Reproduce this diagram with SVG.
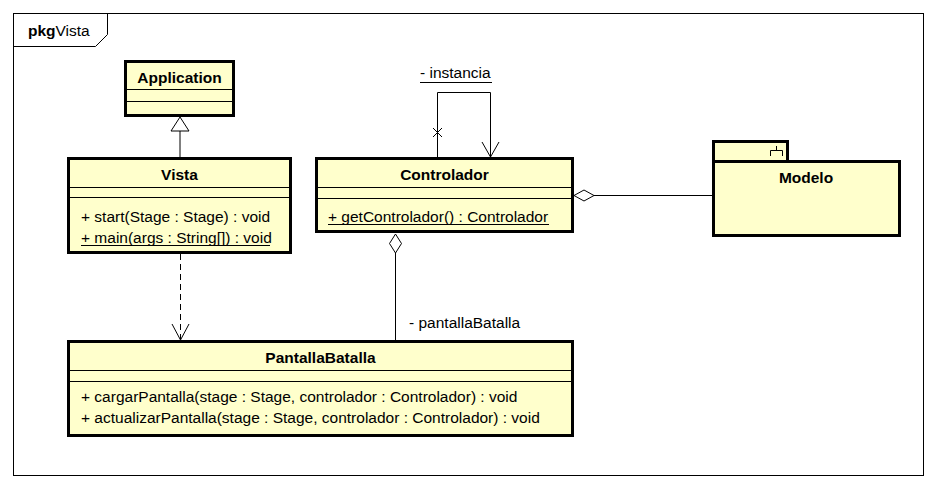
<svg xmlns="http://www.w3.org/2000/svg" width="937" height="489" viewBox="0 0 937 489">
<defs>
<style>
.frame{fill:#fff;stroke:#000;stroke-width:1}
.box{fill:#FFFFCC;stroke:#000;stroke-width:3}
.sep{stroke:#000;stroke-width:1}
.ln{fill:none;stroke:#000;stroke-width:1}
.dash{fill:none;stroke:#000;stroke-width:1;stroke-dasharray:6,4}
.hole{fill:#fff;stroke:#000;stroke-width:1}
.nm{font-family:"Liberation Sans",Arial,sans-serif;font-size:15.5px;font-weight:bold;fill:#000}
.tx{font-family:"Liberation Sans",Arial,sans-serif;font-size:15.5px;fill:#000}
</style>
</defs>
<rect width="937" height="489" fill="#fff"/>
<g id="frame">
<rect class="frame" x="13.5" y="13.5" width="910" height="462"/>
<path class="ln" d="M13.5,46.5 H95.5 L107.5,34.5 V13.5"/>
<text x="28" y="36" class="tx"><tspan font-weight="bold">pkg</tspan>Vista</text>
</g>
<g id="connectors">
<line class="ln" x1="180" y1="131" x2="180" y2="157"/>
<polygon class="hole" points="180,117 171,131 189,131"/>
<line class="dash" x1="180.5" y1="254" x2="180.5" y2="339"/>
<polyline class="ln" points="172,324 180.5,340 189,324"/>
<polyline class="ln" points="437.5,157 437.5,92.5 490.5,92.5 490.5,157"/>
<line class="ln" x1="433" y1="128" x2="442" y2="137"/>
<line class="ln" x1="442" y1="128" x2="433" y2="137"/>
<polyline class="ln" points="482,142 490.5,157 499,142"/>
<text x="420" y="78" class="tx">- instancia</text>
<line class="ln" x1="420" y1="82.5" x2="492" y2="82.5"/>
<line class="ln" x1="594" y1="195.5" x2="712" y2="195.5"/>
<polygon class="hole" points="574,195.5 584,190 594,195.5 584,201"/>
<line class="ln" x1="395.5" y1="253" x2="395.5" y2="340"/>
<polygon class="hole" points="395.5,234 401.5,243.5 395.5,253 389.5,243.5"/>
<text x="409" y="328" class="tx">- pantallaBatalla</text>
</g>
<g id="Application">
<rect class="box" x="125.5" y="61.5" width="108" height="54"/>
<line class="sep" x1="125" y1="89.5" x2="234" y2="89.5"/>
<line class="sep" x1="125" y1="101.5" x2="234" y2="101.5"/>
<text x="179.5" y="83" text-anchor="middle" class="nm">Application</text>
</g>
<g id="Vista">
<rect class="box" x="68.5" y="158.5" width="222" height="94"/>
<line class="sep" x1="68" y1="187.5" x2="291" y2="187.5"/>
<line class="sep" x1="68" y1="197.5" x2="291" y2="197.5"/>
<text x="179.5" y="180" text-anchor="middle" class="nm">Vista</text>
<text x="81" y="222" class="tx">+ start(Stage : Stage) : void</text>
<text x="81" y="243" class="tx">+ main(args : String[]) : void</text>
<line class="ln" x1="81" y1="245.5" x2="270" y2="245.5"/>
</g>
<g id="Controlador">
<rect class="box" x="316.5" y="158.5" width="256" height="73"/>
<line class="sep" x1="316" y1="187.5" x2="573" y2="187.5"/>
<line class="sep" x1="316" y1="198.5" x2="573" y2="198.5"/>
<text x="444.5" y="180" text-anchor="middle" class="nm">Controlador</text>
<text x="328" y="222" class="tx">+ getControlador() : Controlador</text>
<line class="ln" x1="328" y1="224.5" x2="549" y2="224.5"/>
</g>
<g id="PantallaBatalla">
<rect class="box" x="68.5" y="341.5" width="504" height="94"/>
<line class="sep" x1="68" y1="370.5" x2="573" y2="370.5"/>
<line class="sep" x1="68" y1="381.5" x2="573" y2="381.5"/>
<text x="320.5" y="363" text-anchor="middle" class="nm">PantallaBatalla</text>
<text x="81" y="402" class="tx">+ cargarPantalla(stage : Stage, controlador : Controlador) : void</text>
<text x="81" y="423" class="tx">+ actualizarPantalla(stage : Stage, controlador : Controlador) : void</text>
</g>
<g id="Modelo">
<rect class="box" x="713.5" y="141.5" width="74" height="20"/>
<rect class="box" x="713.5" y="161.5" width="186" height="74"/>
<path class="ln" d="M770.5,156 V150.5 H782.5 V156 M776.5,146 V150.5"/>
<text x="806" y="183" text-anchor="middle" class="nm">Modelo</text>
</g>
</svg>
